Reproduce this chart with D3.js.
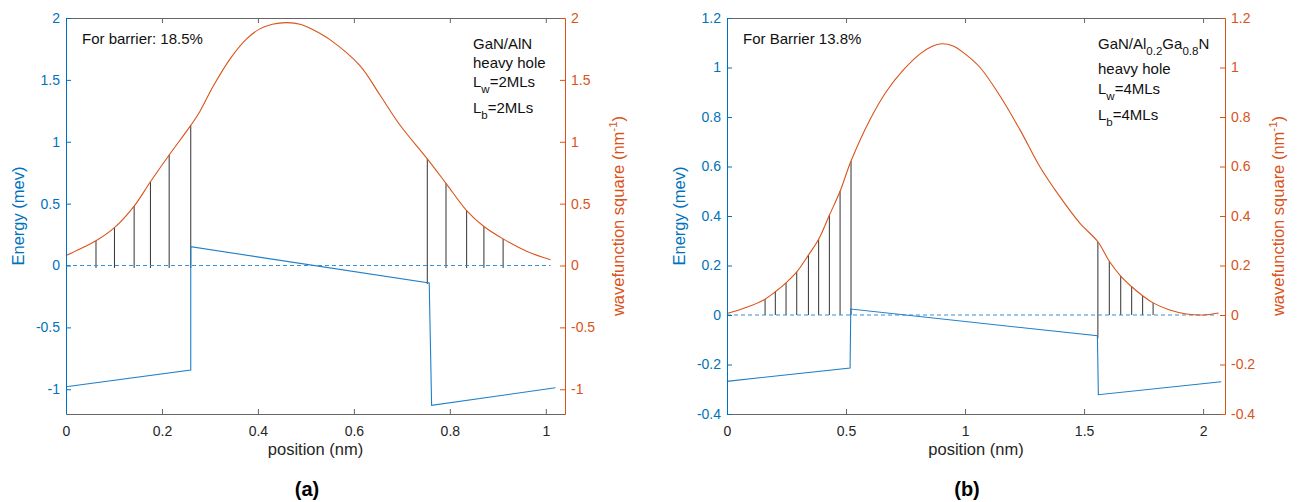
<!DOCTYPE html>
<html>
<head>
<meta charset="utf-8">
<title>Energy and wavefunction square</title>
<script src="https://d3js.org/d3.v7.min.js"></script>
<style>
  body { margin: 0; background: #fff; }
  text { font-family: Arial, "Liberation Sans", Helvetica, sans-serif; }
</style>
</head>
<body>
<div id="chart"></div>
<script>

// ---------- panel (a) : GaN/AlN, Lw = Lb = 2 MLs ----------
var xTicksA = [0, 0.2, 0.4, 0.6, 0.8, 1];
var yTicksA = [-1, -0.5, 0, 0.5, 1, 1.5, 2];
var potentialA = [[0, -0.98], [0.26, -0.845], [0.26, 0.152], [0.757, -0.142], [0.762, -1.13], [1.02, -0.988]];
var zeroLineA = [[0, 0], [1.01, 0]];
var wavefuncA = [[0, 0.08], [0.03, 0.135], [0.0625, 0.2], [0.101, 0.306], [0.142, 0.48], [0.176, 0.677],
                 [0.215, 0.893], [0.26, 1.132], [0.279, 1.245], [0.307, 1.45], [0.342, 1.67], [0.376, 1.83],
                 [0.404, 1.912], [0.43, 1.95], [0.46, 1.963], [0.49, 1.948], [0.515, 1.905], [0.55, 1.825],
                 [0.6125, 1.615], [0.654, 1.38], [0.696, 1.135], [0.753, 0.862], [0.792, 0.664], [0.835, 0.444],
                 [0.871, 0.315], [0.911, 0.215], [0.96, 0.115], [1.01, 0.046]];
// stems: [position, top, bottom]
var stemsA = [[0.0625, 0.2, -0.02], [0.101, 0.306, -0.02], [0.142, 0.48, -0.02], [0.176, 0.677, -0.02],
              [0.215, 0.893, -0.02], [0.26, 1.132, -0.02], [0.753, 0.862, -0.15], [0.792, 0.664, -0.02],
              [0.835, 0.444, -0.02], [0.871, 0.315, -0.02], [0.911, 0.215, -0.02]];

// ---------- panel (b) : GaN/Al0.2Ga0.8N, Lw = Lb = 4 MLs ----------
var xTicksB = [0, 0.5, 1, 1.5, 2];
var yTicksB = [-0.4, -0.2, 0, 0.2, 0.4, 0.6, 0.8, 1, 1.2];
var potentialB = [[0, -0.268], [0.517, -0.214], [0.52, 0.024], [1.556, -0.084], [1.56, -0.322], [2.076, -0.27]];
var zeroLineB = [[0, 0], [2.06, 0]];
var wavefuncB = [[0, 0.006], [0.08, 0.03], [0.16, 0.064], [0.203, 0.094], [0.248, 0.13], [0.293, 0.174],
                 [0.342, 0.242], [0.385, 0.306], [0.43, 0.403], [0.475, 0.5], [0.521, 0.622], [0.601, 0.79],
                 [0.671, 0.905], [0.741, 0.99], [0.811, 1.055], [0.86, 1.085], [0.902, 1.096], [0.95, 1.087],
                 [1.0, 1.055], [1.063, 1.0], [1.147, 0.885], [1.231, 0.748], [1.315, 0.598], [1.399, 0.477],
                 [1.483, 0.37], [1.558, 0.296], [1.606, 0.217], [1.654, 0.157], [1.7, 0.114], [1.746, 0.078],
                 [1.79, 0.049], [1.86, 0.02], [1.93, 0.004], [2.0, 0.0], [2.065, 0.008]];
var stemsB = [[0.16, 0.064, 0], [0.203, 0.094, 0], [0.248, 0.13, 0], [0.293, 0.174, 0], [0.342, 0.242, 0],
              [0.385, 0.306, 0], [0.43, 0.403, 0], [0.475, 0.5, 0], [0.521, 0.622, 0],
              [1.558, 0.296, -0.094], [1.606, 0.217, 0], [1.654, 0.157, 0], [1.7, 0.114, 0],
              [1.746, 0.078, 0], [1.79, 0.049, 0]];

var blue = "#0072BD", orange = "#D95319", dark = "#262626";

var svg = d3.select("#chart")
    .append("svg")
    .attr("width", 1301)
    .attr("height", 502);

function drawPanel(p) {
    var x = d3.scaleLinear().domain(p.xDomain).range([p.left, p.right]);
    var y = d3.scaleLinear().domain(p.yDomain).range([p.bottom, p.top]);
    var y2 = d3.scaleLinear().domain(p.yDomain).range([p.bottom, p.top]);
    var fmt = function(d) { return String(d); };

    var g = svg.append("g");

    // stems
    g.selectAll(".stem")
        .data(p.stems)
        .enter()
        .append("line")
        .attr("x1", function(d) { return x(d[0]); })
        .attr("x2", function(d) { return x(d[0]); })
        .attr("y1", function(d) { return y2(d[2]); })
        .attr("y2", function(d) { return y2(d[1]); })
        .attr("stroke", "#333")
        .attr("stroke-width", 1);

    // zero line (dashed) and potential
    var line = d3.line().x(function(d) { return x(d[0]); }).y(function(d) { return y(d[1]); });
    g.append("path")
        .attr("d", line(p.zero))
        .attr("fill", "none")
        .attr("stroke", "#3b8fd4")
        .attr("stroke-width", 1)
        .attr("stroke-dasharray", "4,3");
    g.append("path")
        .attr("d", line(p.potential))
        .attr("fill", "none")
        .attr("stroke", "#1f7fc8")
        .attr("stroke-width", 1.1);

    // wavefunction square
    var wline = d3.line()
        .x(function(d) { return x(d[0]); })
        .y(function(d) { return y2(d[1]); })
        .curve(d3.curveCatmullRom.alpha(0.5));
    g.append("path")
        .attr("d", wline(p.wave))
        .attr("fill", "none")
        .attr("stroke", orange)
        .attr("stroke-width", 1.1);

    // axes (MATLAB style, ticks inward)
    var bottomAx = g.append("g")
        .attr("transform", "translate(0," + p.bottom + ")")
        .call(d3.axisBottom(x).tickValues(p.xTicks).tickFormat(fmt).tickSize(-5).tickSizeOuter(0).tickPadding(12));
    var topAx = g.append("g")
        .attr("transform", "translate(0," + p.top + ")")
        .call(d3.axisTop(x).tickValues(p.xTicks).tickFormat("").tickSize(-5).tickSizeOuter(0));
    [bottomAx, topAx].forEach(function(a) {
        a.select(".domain").attr("stroke", "#666");
        a.selectAll(".tick line").attr("stroke", "#666");
        a.selectAll("text").attr("fill", dark).style("font-size", "14px");
    });

    var leftAx = g.append("g")
        .attr("transform", "translate(" + p.left + ",0)")
        .call(d3.axisLeft(y).tickValues(p.yTicks).tickFormat(fmt).tickSize(-5).tickSizeOuter(0).tickPadding(6));
    leftAx.select(".domain").attr("stroke", blue);
    leftAx.selectAll(".tick line").attr("stroke", blue);
    leftAx.selectAll("text").attr("fill", blue).style("font-size", "14px");

    var rightAx = g.append("g")
        .attr("transform", "translate(" + p.right + ",0)")
        .call(d3.axisRight(y2).tickValues(p.yTicks).tickFormat(fmt).tickSize(-5).tickSizeOuter(0).tickPadding(6));
    rightAx.select(".domain").attr("stroke", orange);
    rightAx.selectAll(".tick line").attr("stroke", orange);
    rightAx.selectAll("text").attr("fill", orange).style("font-size", "14px");

    g.selectAll(".domain").attr("stroke-width", 1);

    // axis titles
    var midY = (p.top + p.bottom) / 2;
    g.append("text")
        .attr("transform", "translate(" + (p.left - 42) + "," + midY + ")rotate(-90)")
        .attr("text-anchor", "middle")
        .attr("fill", blue)
        .style("font-size", "16.5px")
        .text("Energy (mev)");

    var wt = g.append("text")
        .attr("transform", "translate(" + (p.right + 59) + "," + midY + ")rotate(-90)")
        .attr("text-anchor", "middle")
        .attr("fill", orange)
        .style("font-size", "16.5px");
    wt.append("tspan").text("wavefunction square (nm");
    wt.append("tspan").attr("dy", -7).style("font-size", "11.5px").text("-1");
    wt.append("tspan").attr("dy", 7).text(")");

    g.append("text")
        .attr("x", (p.left + p.right) / 2)
        .attr("y", p.bottom + 41)
        .attr("text-anchor", "middle")
        .attr("fill", dark)
        .style("font-size", "16.5px")
        .text("position (nm)");

    g.append("text")
        .attr("x", p.labelX)
        .attr("y", 496)
        .attr("text-anchor", "middle")
        .attr("fill", "#000")
        .style("font-size", "20px")
        .style("font-weight", "bold")
        .text(p.label);

    // annotations
    g.append("text")
        .attr("x", p.left + 16)
        .attr("y", 44)
        .attr("fill", "#111")
        .style("font-size", "15px")
        .text(p.note);

    p.info.forEach(function(row) {
        var t = g.append("text")
            .attr("x", p.infoX)
            .attr("y", row.y)
            .attr("fill", "#111")
            .style("font-size", "15px");
        var shifted = false;
        row.parts.forEach(function(part) {
            if (part.sub) {
                t.append("tspan").attr("dy", 6).style("font-size", "11.5px").text(part.sub);
                shifted = true;
            } else {
                t.append("tspan").attr("dy", shifted ? -6 : 0).text(part.txt);
                shifted = false;
            }
        });
    });
}

drawPanel({
    left: 66, right: 565, top: 18, bottom: 414,
    xDomain: [0, 1.04], yDomain: [-1.2, 2],
    xTicks: xTicksA, yTicks: yTicksA,
    potential: potentialA, zero: zeroLineA, wave: wavefuncA, stems: stemsA,
    label: "(a)", labelX: 307,
    note: "For barrier: 18.5%",
    infoX: 473,
    info: [
        {y: 49, parts: [{txt: "GaN/AlN"}]},
        {y: 68, parts: [{txt: "heavy hole"}]},
        {y: 87, parts: [{txt: "L"}, {sub: "w"}, {txt: "=2MLs"}]},
        {y: 113, parts: [{txt: "L"}, {sub: "b"}, {txt: "=2MLs"}]}
    ]
});

drawPanel({
    left: 727, right: 1225, top: 18, bottom: 414,
    xDomain: [0, 2.092], yDomain: [-0.4, 1.2],
    xTicks: xTicksB, yTicks: yTicksB,
    potential: potentialB, zero: zeroLineB, wave: wavefuncB, stems: stemsB,
    label: "(b)", labelX: 967,
    note: "For Barrier 13.8%",
    infoX: 1098,
    info: [
        {y: 49, parts: [{txt: "GaN/Al"}, {sub: "0.2"}, {txt: "Ga"}, {sub: "0.8"}, {txt: "N"}]},
        {y: 74, parts: [{txt: "heavy hole"}]},
        {y: 94, parts: [{txt: "L"}, {sub: "w"}, {txt: "=4MLs"}]},
        {y: 120, parts: [{txt: "L"}, {sub: "b"}, {txt: "=4MLs"}]}
    ]
});

</script>
</body>
</html>
